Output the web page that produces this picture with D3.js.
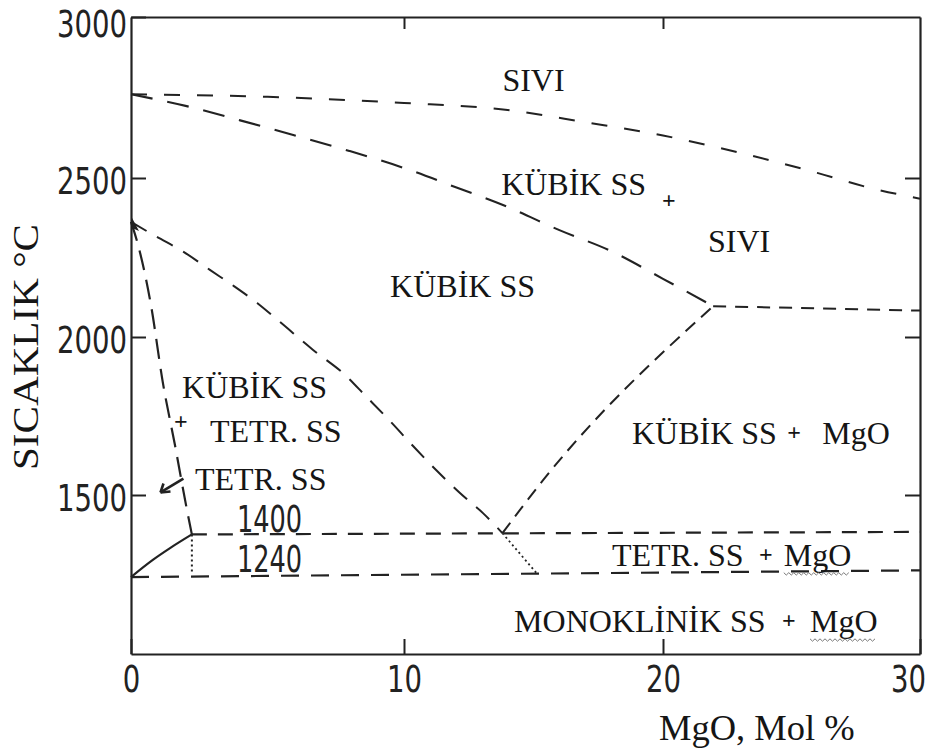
<!DOCTYPE html>
<html>
<head>
<meta charset="utf-8">
<script src="https://cdn.jsdelivr.net/npm/d3@7"></script>
<style>
  html, body { margin: 0; padding: 0; background: #fff; }
  svg { display: block; }
  .tick text, .num { font-family: "DejaVu Sans Condensed", "DejaVu Sans", sans-serif; fill: #222; }
  .lbl { font-family: "Liberation Serif", "Times New Roman", serif; fill: #151515; }
</style>
</head>
<body>
<svg id="chart" width="932" height="753"></svg>
<script>
// ---------------- DATA ----------------
const xTicks = [0, 10, 20, 30];
const yTicks = [1500, 2000, 2500, 3000];
const xTitle = "MgO, Mol %";
const yTitle = "SICAKLIK °C";

// liquidus (upper dashed curve) [mol% MgO, °C]
const liquidus = [[0,2760],[5,2752],[10,2733],[14,2711],[17,2673],[20,2632],[23,2578],[26,2516],[28,2470],[30,2435]];
// cubic solidus
const cubicSolidus = [[0,2760],[2,2724],[4,2679],[6,2632],[8,2584],[10,2531],[12,2471],[14,2409],[16,2336],[18,2270],[20,2183],[21.95,2097]];
// eutectic horizontal
const eutecticLine = [[21.95,2097],[30,2083]];
// cubic SS / cubic SS + MgO boundary
const cubicMgOBoundary = [[13.8,1380],[15.37,1547],[21.95,2097]];
// cubic / cubic+tetragonal boundary
const cubicTetrBoundary = [[0,2362],[0.88,2318],[1.94,2267],[2.89,2211],[3.77,2160],[4.62,2107],[5.46,2047],[6.67,1959],[7.84,1880],[8.6,1813],[9.49,1734],[10.35,1655],[11.24,1579],[12.16,1506],[13.05,1443],[13.8,1380]];
// tetragonal solvus (steep left line)
const tetrSolvus = [[0,2362],[0.26,2289],[0.73,2101],[1.17,1854],[1.61,1658],[2.05,1453],[2.23,1376]];
// isotherms
const iso1400 = [[2.23,1376],[30,1384]];
const iso1240 = [[0,1242],[30,1263]];
// solid tetragonal/monoclinic curve
const tetrMonoCurve = [[0,1242],[0.8,1296],[1.43,1333],[2.23,1376]];
// dotted lines
const dottedVertical = [[2.23,1376],[2.23,1256]];
const dottedEutectoid = [[13.8,1380],[15.1,1256]];

// region labels [text, mol%, °C, anchor, kind]
const labels = [
  ["SIVI", 13.8, 2769, "start", "serif"],
  ["KÜBİK SS", 13.75, 2447, "start", "serif"],
  ["+", 20.23, 2405, "middle", "plus"],
  ["SIVI", 21.75, 2267, "start", "serif"],
  ["KÜBİK SS", 9.49, 2126, "start", "serif"],
  ["KÜBİK SS", 1.87, 1807, "start", "serif"],
  ["+", 1.83, 1710, "middle", "plus"],
  ["TETR. SS", 2.89, 1668, "start", "serif"],
  ["TETR. SS", 2.34, 1516, "start", "serif"],
  ["1400", 3.88, 1384, "start", "num"],
  ["1240", 3.88, 1258, "start", "num"],
  ["KÜBİK SS", 18.8, 1661, "start", "serif"],
  ["+", 25.1, 1674, "middle", "plus"],
  ["MgO", 26.2, 1661, "start", "serif"],
  ["TETR. SS", 18.03, 1277, "start", "serif"],
  ["+", 24.0, 1288, "middle", "plus"],
  ["MgO", 24.7, 1277, "start", "serif"],
  ["MONOKLİNİK SS", 14.25, 1069, "start", "serif"],
  ["+", 24.9, 1081, "middle", "plus"],
  ["MgO", 25.72, 1069, "start", "serif"]
];
// wavy underlines under "MgO" [from mol%, to mol%, °C]
const squiggles = [[24.7, 27.25, 1252], [25.72, 28.25, 1044]];
// arrow pointing to the tetragonal solvus [mol%, °C]: tail, head
const arrowPath = [[1.92,1552],[1.08,1508]];

// ---------------- CHART ----------------
const svg = d3.select("#chart");
const x = d3.scaleLinear().domain([0,10,20,30]).range([131,404,663,920]);
const y = d3.scaleLinear().domain([1000,1500,2000,2500,3000]).range([654,495,337,178,17]);
const ink = "#222";
const digitW = 17.5; // narrow DIN-like digit width

// axes / frame
const gB = svg.append("g").attr("transform", `translate(0,${y(1000)})`)
  .call(d3.axisBottom(x).tickValues(xTicks).tickSizeInner(-15).tickSizeOuter(0).tickPadding(12).tickFormat(d3.format("d")));
const gL = svg.append("g").attr("transform", `translate(${x(0)},0)`)
  .call(d3.axisLeft(y).tickValues(yTicks).tickSizeInner(-15).tickSizeOuter(0).tickPadding(4).tickFormat(d3.format("d")));
const gT = svg.append("g").attr("transform", `translate(0,${y(3000)})`)
  .call(d3.axisTop(x).tickValues([10,20]).tickSizeInner(-12).tickSizeOuter(0).tickFormat(""));
const gR = svg.append("g").attr("transform", `translate(${x(30)},0)`)
  .call(d3.axisRight(y).tickValues([1500,2000,2500]).tickSizeInner(-15).tickSizeOuter(0).tickFormat(""));
[gB, gL, gT, gR].forEach(g => {
  g.select(".domain").attr("stroke", ink).attr("stroke-width", 2.2);
  g.selectAll(".tick line").attr("stroke", ink).attr("stroke-width", 2);
});
gB.selectAll(".tick text").attr("font-size", 37).attr("dy", "0.71em")
  .attr("dx", d => d === 30 ? -12 : 0)
  .attr("textLength", d => String(d).length * digitW).attr("lengthAdjust", "spacingAndGlyphs");
gL.selectAll(".tick text").attr("font-size", 37).attr("dy", d => d === 3000 ? "0.52em" : "0.42em")
  .attr("textLength", d => String(d).length * digitW).attr("lengthAdjust", "spacingAndGlyphs");

// axis titles
svg.append("text").attr("class", "lbl")
  .attr("transform", `translate(38,${y(1000) - 184}) rotate(-90)`)
  .attr("font-size", 36).attr("text-anchor", "start")
  .attr("textLength", 246).attr("lengthAdjust", "spacingAndGlyphs").text(yTitle);
svg.append("text").attr("class", "lbl")
  .attr("x", x(30) - 261).attr("y", y(1000) + 86)
  .attr("font-size", 36.5).text(xTitle);

// lines
const lineSmooth = d3.line().x(d => x(d[0])).y(d => y(d[1])).curve(d3.curveMonotoneX);
const lineStraight = d3.line().x(d => x(d[0])).y(d => y(d[1]));
const curves = [
  [liquidus, lineSmooth, "16,17", 2],
  [cubicSolidus, lineSmooth, "22,15", 2.1],
  [eutecticLine, lineStraight, "13,9", 2],
  [cubicMgOBoundary, lineSmooth, "13,8", 2],
  [cubicTetrBoundary, lineSmooth, "18,12", 2],
  [tetrSolvus, lineSmooth, "20,10", 2.2],
  [iso1400, lineStraight, "15,11", 2.2],
  [iso1240, lineStraight, "18,12", 2.2],
  [tetrMonoCurve, lineSmooth, null, 2.2],
  [dottedVertical, lineStraight, "2,3", 2],
  [dottedEutectoid, lineStraight, "2,3", 1.8]
];
curves.forEach(([data, gen, dash, w]) => {
  svg.append("path").attr("d", gen(data)).attr("fill", "none")
    .attr("stroke", ink).attr("stroke-width", w)
    .attr("stroke-dasharray", dash);
});

// arrowhead at top of left boundaries
const ax0 = x(0), ay0 = y(2362);
svg.append("path")
  .attr("d", `M${ax0},${ay0 - 6} L${ax0 + 8},${ay0 + 9} L${ax0 + 1},${ay0 + 6} Z`)
  .attr("fill", ink);

// arrow to solvus
svg.append("path").attr("d", lineStraight(arrowPath))
  .attr("fill", "none").attr("stroke", ink).attr("stroke-width", 2.6);
const ae = arrowPath[arrowPath.length - 1];
svg.append("path")
  .attr("d", `M${x(ae[0])},${y(ae[1])} l10,-1 M${x(ae[0])},${y(ae[1])} l3,-9`)
  .attr("stroke", ink).attr("stroke-width", 2.6).attr("fill", "none");

// labels
labels.forEach(([t, m, temp, anchor, kind]) => {
  const el = svg.append("text").attr("x", x(m)).attr("y", y(temp))
    .attr("text-anchor", anchor).text(t);
  if (kind === "serif") el.attr("class", "lbl").attr("font-size", 32);
  else if (kind === "plus") el.attr("class", "lbl").attr("font-size", 24).attr("font-weight", "bold");
  else el.attr("class", "num").attr("font-size", 37)
        .attr("textLength", t.length * 16.3).attr("lengthAdjust", "spacingAndGlyphs");
});

// squiggly underlines
squiggles.forEach(([a, b, temp]) => {
  const x0 = x(a), x1 = x(b), yy = y(temp);
  const pts = [];
  let up = true;
  for (let px = x0; px <= x1; px += 2.5) { pts.push([px, yy + (up ? -1.2 : 1.2)]); up = !up; }
  svg.append("path").attr("d", d3.line()(pts)).attr("fill", "none")
    .attr("stroke", "#777").attr("stroke-width", 1);
});
</script>
</body>
</html>
